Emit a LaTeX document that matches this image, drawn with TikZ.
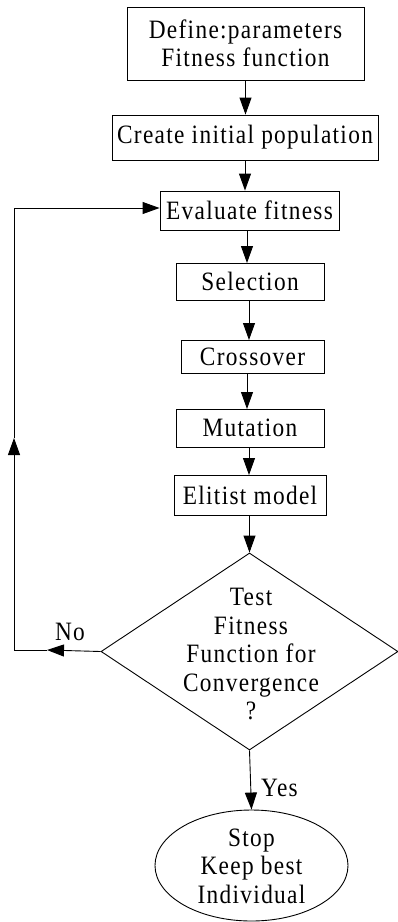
\documentclass[tikz,border=0pt]{standalone}
\usepackage{fontspec}
\setmainfont{Liberation Serif}[LetterSpace=5,FakeStretch=0.88]
\usetikzlibrary{arrows.meta,shapes.geometric}

\tikzset{
  box/.style={draw, line width=0.9pt, inner sep=0pt, align=center},
  txt/.style={align=center, inner sep=0pt, font=\fontsize{26.5}{28.5}\selectfont},
  arr/.style={line width=0.9pt, -{Triangle[length=17pt,width=12pt]}},
  ln/.style={line width=0.9pt}
}

\begin{document}
\begin{tikzpicture}[x=1pt,y=-1pt]
            \useasboundingbox (0,0) rectangle (397,922);
            % boxes
            \node[box,txt,minimum width=237pt,minimum height=73pt] (define) at (245.5,43.5) {Define:parameters\\Fitness function};
            \node[box,txt,minimum width=266pt,minimum height=45pt] (create) at (245,137.5) {Create initial population};
            \node[box,txt,minimum width=179pt,minimum height=39pt] (eval) at (249.5,210.5) {Evaluate fitness};
            \node[box,txt,minimum width=148pt,minimum height=37pt] (select) at (250,281.5) {Selection};
            \node[box,txt,minimum width=143pt,minimum height=33pt] (cross) at (252.5,356.5) {Crossover};
            \node[box,txt,minimum width=148pt,minimum height=38pt] (mutate) at (250,428) {Mutation};
            \node[box,txt,minimum width=152pt,minimum height=40pt] (elite) at (250,495) {Elitist model};
            % decision and end
            \node[draw,diamond,line width=0.9pt,inner sep=0pt,minimum width=297pt,minimum height=197pt] (test) at (249.5,651.5) {};
            \node[txt] (testtxt) at (251,654) {Test\\Fitness\\Function for\\Convergence\\?};
            \node[draw,ellipse,line width=0.9pt,inner sep=0pt,minimum width=193pt,minimum height=111pt] (stop) at (251.5,865.5) {};
            \node[txt] (stoptxt) at (251.5,866) {Stop\\Keep best\\Individual};
            % arrows down
            \draw[arr] (define.south) -- (define.south |- create.north);
            \draw[arr] (create.south) -- (create.south |- eval.north);
            \draw[arr] (247,230) -- (247,263);
            \draw[arr] (249,300) -- (249,340);
            \draw[arr] (247,373) -- (247,409);
            \draw[arr] (249,447) -- (249,475);
            \draw[arr] (elite.south -| test.north) -- (test.north);
            \draw[arr] (test.south) -- (stop.north) node[txt,right,pos=0.63,xshift=10pt] (yes) {Yes};
            % loop back
            \coordinate (nol) at (47,650);
            \coordinate (cornl) at (14,650);
            \coordinate (upa) at (14,438);
            \coordinate (cortop) at (14,208);
            \draw[arr] (test.west) -- (nol);
            \draw[ln] (nol) -- (cornl);
            \draw[arr] (cornl) -- (upa);
            \draw[ln] (upa) -- (cortop);
            \draw[arr] (cortop) -- (cortop -| eval.west);
            \node[txt] (no) at (70,632) {No};
        \end{tikzpicture}
\end{document}
